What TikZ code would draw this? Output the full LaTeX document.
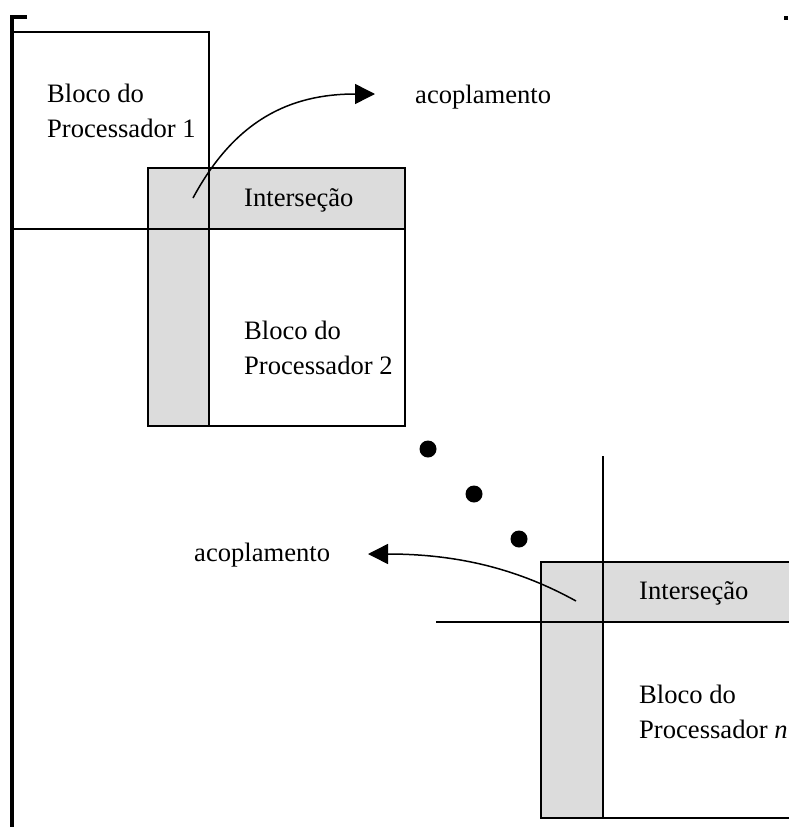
\documentclass[tikz,border=0pt]{standalone}
\usepackage{fontspec}
\setmainfont{Liberation Serif}
\usetikzlibrary{arrows.meta}
\definecolor{bandgray}{HTML}{DCDCDC}
\begin{document}
\begin{tikzpicture}[x=1pt,y=-1pt,
  thin line/.style={line width=1.5pt},
  bracket/.style={line width=4pt},
  label/.style={inner sep=0pt,anchor=base west,font=\fontsize{26.6}{30}\selectfont},
  couple/.style={line width=1.5pt,-{Triangle[length=20pt,width=20pt]}},
  dot/.style={circle,fill=black,inner sep=0pt,minimum size=17pt}]
\useasboundingbox (0,0) rectangle (789,827);
\begin{scope}
\clip (0,0) rectangle (789,827);

% shaded overlap bands
\fill[bandgray] (148,168) rectangle (405,229);
\fill[bandgray] (148,168) rectangle (209,426);
\fill[bandgray] (541,562) rectangle (800,622);
\fill[bandgray] (541,562) rectangle (603,818);

% matrix brackets
\draw[bracket] (27,17) -- (12,17) -- (12,830);
\fill (784,16) rectangle (788,20);

% block of processor 1
\draw[thin line] (12,32) -- (209,32) -- (209,426);
\draw[thin line] (12,229) -- (405,229);

% block of processor 2
\draw[thin line] (148,168) rectangle (405,426);

% block of processor n
\draw[thin line] (800,562) -- (541,562) -- (541,818) -- (800,818);
\draw[thin line] (603,456) -- (603,818);
\draw[thin line] (436,622) -- (800,622);
\end{scope}

% texts
\node[label] (b1a) at (47,102) {Bloco do};
\node[label] (b1b) at (47,137) {Processador 1};
\node[label] (i1) at (244,206) {Interseção};
\node[label] (b2a) at (244,339) {Bloco do};
\node[label] (b2b) at (244,374) {Processador 2};
\node[label] (ac1) at (415,103) {acoplamento};
\node[label] (ac2) at (194,561) {acoplamento};
\node[label] (i2) at (639,599) {Interseção};
\node[label] (bna) at (639,703) {Bloco do};
\node[label] (bnb) at (639,738) {Processador \textit{n}};

% ellipsis dots
\node[dot] (d1) at (428,449) {};
\node[dot] (d2) at (474,494) {};
\node[dot] (d3) at (519,539) {};

% coupling arrows
\coordinate (c1s) at (193,198);
\coordinate (c1e) at (375,94);
\coordinate (c2s) at (576,601);
\coordinate (c2e) at (368,554);
\draw[couple] (c1s) .. controls (235,120) and (290,94) .. (c1e);
\draw[couple] (c2s) .. controls (520,570) and (460,554) .. (c2e);
\end{tikzpicture}
\end{document}
